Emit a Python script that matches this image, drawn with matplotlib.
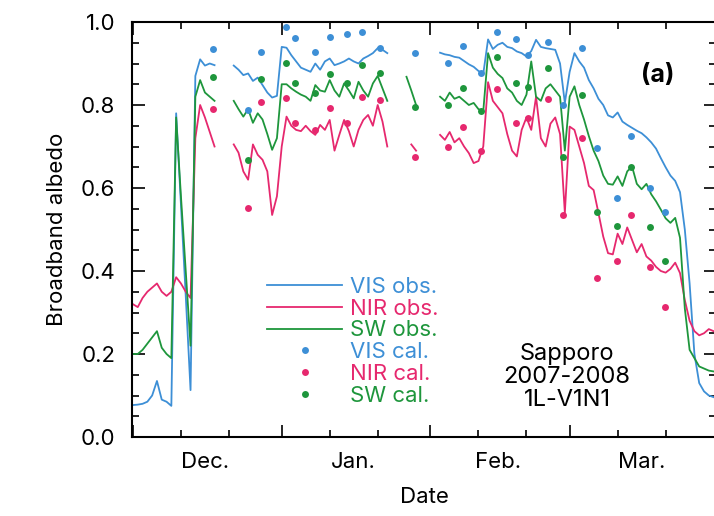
import numpy as np
import matplotlib.pyplot as plt

plt.rcParams['font.family'] = ['Inter', 'DejaVu Sans']

nan = np.nan

# days since Dec. 1, 2007 (daily observations)
days = np.arange(0, 122)

# VIS obs.
vis_a = [.077, .078, .08, .085, .10, .135, .09, .085, .075, .78, .56, .34, .113,
         .87, .91, .895, .90, .896]
vis_b = [.895, .885, .872, .876, .858, .866, .848, .83, .818, .822, .94, .938,
         .92, .905, .89, .885, .88, .90, .885, .905, .912, .896, .90, .905, .912,
         .905, .90, .912, .918, .925, .937, .933, .925]
vis_c = [.926, .922, .92, .916, .914, .906, .898, .892, .882, .875, .958, .935,
         .945, .95, .94, .937, .929, .925, .917, .93, .957, .94, .937, .935, .933,
         .90, .805, .88, .925, .905, .89, .86, .84, .815, .80, .775, .77, .782,
         .76, .752, .745, .738, .732, .722, .71, .695, .672, .65, .63, .617, .59,
         .50, .37, .20, .13, .11, .10, .096]
vis_obs = vis_a + [nan] * 3 + vis_b + [nan] * 10 + vis_c

# NIR obs.
nir_a = [.32, .313, .335, .35, .36, .37, .35, .34, .35, .385, .37, .35, .335,
         .72, .80, .77, .735, .70]
nir_b = [.705, .685, .64, .62, .705, .68, .668, .64, .535, .58, .70, .772, .75,
         .74, .737, .75, .737, .728, .752, .74, .764, .69, .728, .764, .737, .70,
         .74, .764, .776, .75, .80, .76, .70]
nir_d = [.705, .69]
nir_c = [.728, .716, .735, .71, .72, .70, .684, .66, .665, .70, .855, .81, .795,
         .78, .73, .69, .676, .74, .77, .74, .82, .72, .70, .755, .77, .73, .54,
         .748, .74, .70, .66, .605, .595, .54, .483, .443, .44, .49, .465, .505,
         .475, .445, .465, .435, .425, .41, .40, .396, .405, .42, .395, .33, .28,
         .255, .245, .25, .26, .255]
nir_obs = nir_a + [nan] * 3 + nir_b + [nan] * 4 + nir_d + [nan] * 4 + nir_c

# SW obs.
sw_a = [.20, .20, .21, .225, .24, .255, .215, .20, .19, .77, .58, .40, .22,
        .82, .86, .83, .82, .81]
sw_b = [.81, .79, .772, .79, .757, .78, .765, .73, .692, .72, .85, .85, .84,
        .832, .825, .82, .81, .848, .835, .832, .86, .835, .82, .852, .835, .816,
        .856, .835, .82, .852, .87, .84, .81]
sw_d = [.868, .835, .80]
sw_c = [.82, .81, .83, .815, .82, .81, .80, .805, .79, .785, .925, .89, .875,
        .865, .84, .83, .81, .80, .825, .905, .82, .81, .84, .85, .835, .82, .69,
        .82, .845, .80, .765, .725, .69, .665, .63, .61, .608, .628, .605, .64,
        .652, .61, .597, .61, .585, .568, .548, .527, .516, .528, .48, .31, .21,
        .19, .17, .165, .16, .158]
sw_obs = sw_a + [nan] * 3 + sw_b + [nan] * 3 + sw_d + [nan] * 4 + sw_c

# calculated albedo
cal_days = [16.7, 24.0, 26.6, 31.9, 33.75, 37.9, 41.0, 44.5, 47.8, 51.5, 58.75,
            65.7, 68.7, 72.6, 75.8, 79.8, 82.4, 86.5, 89.6, 93.6, 96.7, 100.8,
            103.7, 107.7, 110.8]
vis_cal = [.934, .788, .928, .987, .961, .928, .965, .971, .977, .937, .925,
           .901, .941, .878, .977, .958, .92, .953, .80, .937, .696, .575, .725,
           .599, .543]
nir_cal = [.790, .551, .808, .816, .756, .740, .792, .756, .82, .812, .675,
           .70, .748, .688, .838, .757, .768, .814, .535, .72, .383, .423, .535,
           .41, .314]
sw_cal = [.868, .667, .862, .902, .852, .828, .875, .854, .896, .876, .794,
          .80, .84, .786, .915, .852, .844, .888, .675, .825, .543, .508, .65,
          .507, .423]

months = ['Dec.', 'Jan.', 'Feb.', 'Mar.']
month_mid = [15, 46, 76, 106]
month_start = [0, 31, 62, 91]
ten_days = [10, 20, 41, 51, 72, 82, 101, 111]

c_vis = '#3d8fd6'
c_nir = '#e6286e'
c_sw = '#1e963c'

fig = plt.figure(figsize=(7.14, 5.16), dpi=100)
ax = fig.add_axes([132 / 714, 79 / 516, 584 / 714, 415 / 516])

ax.plot(days, vis_obs, color=c_vis, lw=1.3, label='VIS obs.')
ax.plot(days, nir_obs, color=c_nir, lw=1.3, label='NIR obs.')
ax.plot(days, sw_obs, color=c_sw, lw=1.3, label='SW obs.')
ax.plot(cal_days, vis_cal, 'o', color=c_vis, ms=5, mew=0, label='VIS cal.')
ax.plot(cal_days, nir_cal, 'o', color=c_nir, ms=5, mew=0, label='NIR cal.')
ax.plot(cal_days, sw_cal, 'o', color=c_sw, ms=5, mew=0, label='SW cal.')

ax.set_xlim(-0.2, 121.5)
ax.set_ylim(0, 1.0)

ax.set_xticks(month_start)
ax.set_xticks(ten_days, minor=True)
ax.tick_params(axis='x', which='both', labelbottom=False)
ax.set_yticks(np.arange(0, 1.01, 0.2))
ax.set_yticks(np.arange(0, 1.01, 0.05), minor=True)
ax.set_yticklabels(['%.1f' % v for v in np.arange(0, 1.01, 0.2)])
ax.tick_params(which='both', direction='in', top=True, right=True,
               width=1.2, labelsize=16)
ax.tick_params(which='major', length=9, pad=12)
ax.tick_params(which='minor', length=5)
for s in ax.spines.values():
    s.set_linewidth(1.5)

sec = ax.secondary_xaxis('bottom')
sec.set_xticks(month_mid, months)
sec.tick_params(length=0, labelsize=16, pad=11)
sec.spines['bottom'].set_visible(False)

ax.set_xlabel('Date', fontsize=16, labelpad=36)
ax.set_ylabel('Broadband albedo', fontsize=16, labelpad=10)

ax.legend(loc='upper left', bbox_to_anchor=(0.231, 0.386), frameon=False,
          fontsize=16, handlelength=3.4, handletextpad=0.36, labelspacing=0.08,
          borderpad=0, borderaxespad=0, labelcolor='linecolor', numpoints=1)

ax.text(0.745, 0.145, 'Sapporo\n2007-2008\n1L-V1N1', transform=ax.transAxes,
        ha='center', va='center', fontsize=17, linespacing=1.05)
ax.text(0.90, 0.87, '(a)', transform=ax.transAxes, ha='center', va='center',
        fontsize=18, fontweight='bold')

plt.savefig('out.png', dpi=100)
